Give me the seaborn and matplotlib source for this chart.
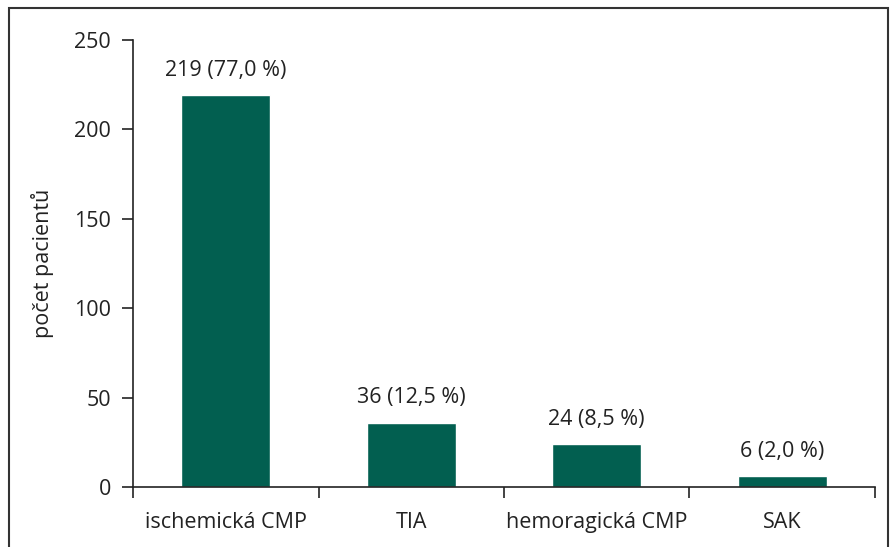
import matplotlib
matplotlib.use("Agg")
import matplotlib.pyplot as plt
import seaborn as sns
import pandas as pd
from matplotlib.patches import Rectangle

categories = ["ischemická CMP", "TIA", "hemoragická CMP", "SAK"]
counts = [219, 36, 24, 6]
percents = ["77,0", "12,5", "8,5", "2,0"]

df = pd.DataFrame({"typ": categories, "pocet": counts})

sns.set_style("white")
plt.rcParams["font.family"] = ["Open Sans", "DejaVu Sans"]
fs = 15.5

fig = plt.figure(figsize=(8.94, 5.47), dpi=100)
ax = fig.add_axes([0.1488, 0.1097, 0.8299, 0.8172])

sns.barplot(data=df, x="typ", y="pocet", color="#025F50", saturation=1,
            width=0.48, ax=ax)

for i, (c, p) in enumerate(zip(counts, percents)):
    ax.text(i, c + 8, f"{c} ({p} %)", ha="center", va="bottom", fontsize=fs, color="#222222")

ax.set_xlim(-0.5, 3.5)
ax.set_ylim(0, 250)
ax.set_yticks(range(0, 251, 50))
ax.set_xlabel("")
ax.set_ylabel("počet pacientů", fontsize=fs, color="#222222", labelpad=14)

for s in ["top", "right"]:
    ax.spines[s].set_visible(False)
for s in ["left", "bottom"]:
    ax.spines[s].set_color("#222222")
    ax.spines[s].set_linewidth(1.2)

ax.tick_params(axis="y", direction="out", length=8, width=1.2, color="#222222",
               labelsize=fs, labelcolor="#222222", left=True, pad=8)
ax.tick_params(axis="x", which="major", length=0, labelsize=fs, labelcolor="#222222", pad=18)
ax.set_xticks([-0.5, 0.5, 1.5, 2.5, 3.5], minor=True)
ax.tick_params(axis="x", which="minor", direction="out", length=8, width=1.2,
               color="#222222", bottom=True)

fig.patches.append(Rectangle((0.0106, -0.05), 0.9825, 1.0354, transform=fig.transFigure,
                             fill=False, edgecolor="#333333", linewidth=1.5))

fig.savefig("out.png", dpi=100)
